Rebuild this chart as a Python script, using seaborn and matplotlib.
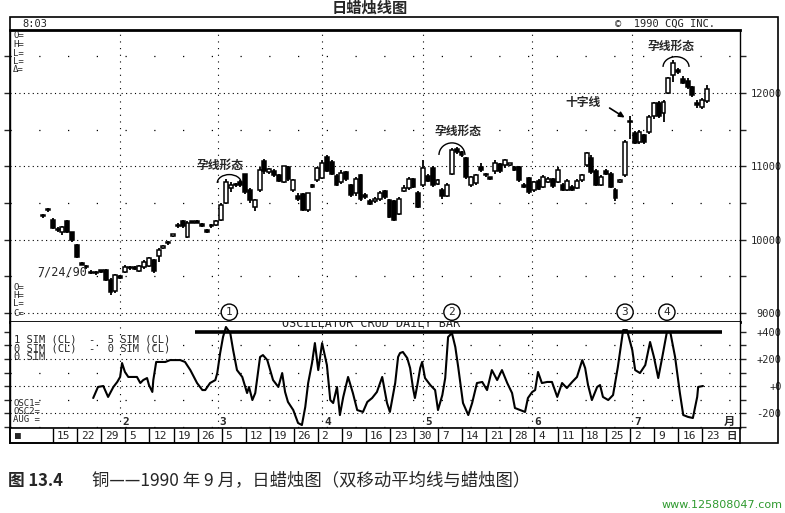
import matplotlib
matplotlib.use("Agg")
import matplotlib.pyplot as plt
import numpy as np
import pandas as pd
import seaborn as sns
from matplotlib.patches import Arc, Rectangle

sns.set_style("white")
plt.rcParams["font.family"] = ["DejaVu Sans Mono", "Noto Sans CJK SC"]
CJK = ["Noto Sans CJK SC", "DejaVu Sans"]
MONO = ["DejaVu Sans Mono", "DejaVu Sans"]

# 日线 OHLC，第 0 根约为 1990-01-11
opens = [10330, 10400, 10270, 10140, 10100, 10250, 10100, 9930, 9680, 9630,
         9560, 9540, 9570, 9590, 9450, 9300, 9500, 9560, 9610, 9620,
         9570, 9620, 9640, 9720, 9770, 9890, 9950, 10050, 10180, 10250,
         10040, 10240, 10250, 10200, 10120, 10180, 10200, 10270, 10500, 10700,
         10740, 10780, 10890, 10670, 10440, 10680, 11070, 10920, 10940, 10880,
         10790, 10990, 10670, 10600, 10620, 10400, 10740, 10810, 10840, 11120,
         11060, 10870, 10780, 10920, 10740, 10630, 10880, 10610, 10530, 10520,
         10550, 10660, 10540, 10520, 10350, 10660, 10700, 10820, 10640, 10740,
         10870, 10980, 10760, 10680, 10600, 10900, 11230, 11190, 11110, 10740,
         10770, 10990, 10890, 10840, 10930, 11030, 11020, 11020, 10990, 10990,
         10750, 10840, 10680, 10800, 10720, 10790, 10820, 10790, 10740, 10680,
         10720, 10710, 10810, 11020, 11110, 10930, 10750, 10930, 10900, 10680,
         10790, 10880, 11610, 11450, 11330, 11420, 11470, 11680, 11860, 11730,
         12000, 12250, 12300, 12190, 12170, 12080, 11870, 11810, 11890]
highs = [10350, 10430, 10290, 10170, 10190, 10270, 10110, 9940, 9700, 9650,
         9580, 9570, 9590, 9600, 9470, 9530, 9520, 9650, 9640, 9640,
         9660, 9720, 9760, 9730, 9880, 9920, 9980, 10080, 10220, 10270,
         10250, 10260, 10270, 10220, 10150, 10210, 10270, 10500, 10820, 10790,
         10770, 10810, 10900, 10700, 10560, 10990, 11100, 10980, 10960, 10900,
         11010, 11010, 10830, 10640, 10630, 10640, 10760, 10990, 11080, 11160,
         11080, 10890, 10950, 10940, 10760, 10850, 10900, 10640, 10560, 10580,
         10660, 10680, 10560, 10540, 10580, 10740, 10850, 10840, 10660, 11080,
         10900, 11000, 10830, 10700, 10770, 11250, 11260, 11210, 11130, 10870,
         10900, 11040, 10910, 10860, 11080, 11050, 11100, 11040, 11010, 11000,
         10770, 10860, 10800, 10820, 10880, 10850, 10840, 10990, 10770, 10820,
         10740, 10820, 10900, 11200, 11160, 10960, 10880, 10960, 10920, 10700,
         10830, 11360, 11690, 11480, 11490, 11440, 11700, 11880, 11890, 11900,
         12220, 12450, 12340, 12230, 12200, 12100, 11910, 11930, 12110]
lows = [10300, 10380, 10140, 10100, 10060, 10090, 9970, 9750, 9650, 9600,
        9530, 9520, 9550, 9440, 9250, 9270, 9460, 9540, 9590, 9580,
        9560, 9600, 9620, 9550, 9700, 9870, 9930, 10030, 10160, 10160,
        10020, 10220, 10220, 10170, 10090, 10160, 10180, 10250, 10480, 10650,
        10720, 10720, 10620, 10500, 10390, 10650, 10900, 10900, 10860, 10780,
        10770, 10800, 10650, 10520, 10390, 10380, 10700, 10790, 10820, 10920,
        10880, 10730, 10760, 10800, 10580, 10600, 10520, 10560, 10470, 10500,
        10530, 10560, 10290, 10250, 10330, 10650, 10680, 10700, 10430, 10720,
        10780, 10720, 10740, 10560, 10580, 10880, 11170, 11130, 10820, 10720,
        10750, 10920, 10860, 10810, 10900, 10910, 10980, 11000, 10930, 10790,
        10700, 10620, 10650, 10670, 10700, 10770, 10710, 10770, 10660, 10660,
        10660, 10690, 10790, 10990, 10900, 10730, 10730, 10880, 10700, 10530,
        10770, 10860, 11370, 11300, 11310, 11310, 11440, 11650, 11660, 11600,
        11980, 12150, 12260, 12120, 12050, 11950, 11800, 11780, 11870]
closes = [10320, 10410, 10160, 10130, 10170, 10110, 9990, 9760, 9660, 9620,
          9540, 9560, 9560, 9450, 9290, 9520, 9480, 9630, 9620, 9600,
          9640, 9700, 9750, 9570, 9860, 9900, 9960, 10060, 10200, 10180,
          10230, 10230, 10230, 10190, 10110, 10190, 10250, 10470, 10790, 10740,
          10750, 10740, 10650, 10540, 10540, 10950, 10930, 10960, 10880, 10800,
          11000, 10820, 10810, 10560, 10400, 10630, 10720, 10970, 11050, 10940,
          10900, 10750, 10910, 10820, 10610, 10820, 10550, 10580, 10480, 10560,
          10640, 10580, 10310, 10270, 10560, 10710, 10830, 10720, 10450, 10980,
          10800, 10740, 10810, 10590, 10750, 11220, 11200, 11150, 10850, 10850,
          10880, 10950, 10880, 10830, 11050, 10930, 11080, 11030, 10950, 10810,
          10720, 10650, 10780, 10690, 10860, 10830, 10730, 10950, 10680, 10800,
          10680, 10800, 10880, 11180, 10920, 10750, 10860, 10900, 10720, 10570,
          10810, 11330, 11600, 11320, 11470, 11330, 11670, 11860, 11690, 11880,
          12200, 12410, 12290, 12140, 12080, 11970, 11830, 11900, 12060]

# 振荡器（5 日均线 - 1 日均线）折线，横轴单位 = 交易日序号
osc_day = [10.4, 11.4, 12.5, 13.5, 14.6, 15.4, 16.0, 16.4, 17.0, 17.7, 19.5, 20.2,
           20.8, 21.6, 22.0, 22.7, 22.9, 23.5, 25.4, 26.4, 28.5, 29.5, 30.6, 32.0,
           33.1, 33.7, 34.7, 35.8, 36.2, 36.8, 37.4, 38.0, 38.9, 39.5, 40.3, 41.4,
           42.4, 42.8, 43.5, 44.1, 45.1, 45.7, 46.6, 47.8, 48.9, 49.7, 50.3, 50.9,
           52.0, 53.0, 53.8, 54.5, 55.1, 55.9, 56.5, 57.2, 58.0, 59.0, 59.7, 60.3,
           61.1, 61.7, 62.4, 63.4, 64.4, 65.3, 66.5, 67.4, 68.4, 69.4, 70.5, 71.5,
           72.1, 73.2, 73.8, 74.2, 74.8, 75.7, 76.3, 76.9, 77.3, 77.8, 78.4, 78.8,
           79.4, 80.5, 81.5, 82.1, 83.0, 83.6, 84.2, 85.0, 85.7, 86.3, 87.3, 88.4,
           89.2, 90.2, 91.3, 92.3, 93.3, 94.4, 95.4, 96.5, 97.5, 98.1, 99.2, 100.2,
           100.8, 101.7, 102.3, 102.9, 103.7, 104.8, 105.8, 106.9, 107.9, 108.9, 110.0, 111.0,
           112.1, 112.7, 113.3, 114.1, 115.2, 115.8, 116.4, 117.5, 118.5, 119.5, 120.6, 121.4,
           122.5, 123.1, 124.1, 125.2, 126.2, 127.0, 127.9, 128.7, 129.7, 130.4, 131.4, 132.4,
           133.1, 134.1, 135.1, 136.0, 136.2, 137.2]
osc_val = [-89, -7, 0, -81, -7, 30, 67, 170, 104, 67, 67, 22,
           44, 59, 7, -44, 44, 178, 178, 192, 192, 178, 118, 22,
           -30, -30, 22, 44, 96, 244, 363, 437, 392, 266, 118, 67,
           -52, -7, -104, -52, 215, 229, 192, 44, -7, 96, -44, -118,
           -178, -274, -289, -155, 22, 170, 318, 118, 318, 155, -104, -126,
           -7, -215, -81, 67, -52, -178, -192, -118, -89, -44, 67, -126,
           -192, 22, 215, 244, 252, 207, 133, -15, -89, 7, 133, 178,
           59, 7, -30, -178, -67, 59, 363, 392, 289, 141, -126, -215,
           -126, 22, 30, -30, 118, 44, 118, 22, -52, -163, -178, -192,
           -89, -44, -30, 104, 22, 30, 30, -81, 22, -15, 30, 67,
           192, 133, 7, -104, -7, 7, -81, -104, -67, 141, 414, 414,
           266, 118, 96, 155, 326, 215, 59, 207, 400, 400, 215, -52,
           -215, -229, -237, -81, -7, 0]

week_labels = ["15", "22", "29", "5", "12", "19", "26", "5", "12", "19", "26",
               "2", "9", "16", "23", "30", "7", "14", "21", "28", "4", "11",
               "18", "25", "2", "9", "16", "23"]
week_start = [2.1 + 5 * k for k in range(len(week_labels))]
month_labels = ["2", "3", "4", "5", "6", "7"]
month_day = [16, 36.3, 58, 79, 101.7, 122.5]

price_ticks = [9000, 10000, 11000, 12000]
osc_ticks = [-200, 0, 200, 400]
osc_tick_labels = ["-200", "+0", "+200", "+400"]

bars = pd.DataFrame({"open": opens, "high": highs, "low": lows, "close": closes})
bars["day"] = np.arange(len(bars))
osc = pd.DataFrame({"day": osc_day, "osc": osc_val})

W, H = 785, 513


def fx(x):
    return x / W


def fy(y):
    return 1 - y / H


fig = plt.figure(figsize=(W / 100, H / 100), dpi=100)
XL = (-6.9, 144.9)
DOT = (0, (1, 3))
DOTV = (0, (1, 5))
SPARSE = (0, (1, 22))

# ---------------- 主图：蜡烛线 ----------------
ax = fig.add_axes([fx(10), fy(322), fx(740) - fx(10), fy(30) - fy(322)])
ax.set_xlim(*XL)
ax.set_ylim(8876, 12859)
for p in price_ticks:
    ax.axhline(p, color="black", lw=0.8, ls=DOT, zorder=1)
for p in [9500, 10500, 11500, 12500]:
    ax.axhline(p, color="black", lw=0.9, ls=SPARSE, zorder=1)
for d in month_day:
    ax.axvline(d, color="black", lw=0.8, ls=DOTV, zorder=1)

ax.vlines(bars["day"], bars["low"], bars["high"], color="black", lw=1.3, zorder=2)
body_lo = np.minimum(bars["open"], bars["close"])
body_h = np.maximum((bars["close"] - bars["open"]).abs(), 20)
up = bars["close"] > bars["open"]
ax.bar(bars["day"][up], body_h[up], bottom=body_lo[up], width=0.8,
       facecolor="white", edgecolor="black", lw=1.1, zorder=3)
ax.bar(bars["day"][~up], body_h[~up], bottom=body_lo[~up], width=0.8,
       facecolor="black", edgecolor="black", lw=1.1, zorder=3)

ax.set_yticks(price_ticks)
ax.set_yticks([9500, 10500, 11500, 12500], minor=True)
ax.set_yticklabels([str(p) for p in price_ticks], family=MONO, fontsize=7.5)
ax.set_xticks([])
ax.tick_params(axis="y", which="both", left=True, right=True, labelleft=False,
               labelright=True, direction="out", length=4, width=1, pad=26)
for lbl in ax.get_yticklabels():
    lbl.set_horizontalalignment("right")
for s in ax.spines.values():
    s.set_color("black")
    s.set_linewidth(1)
ax.spines["top"].set_linewidth(2)
ax.spines["bottom"].set_linewidth(2)

# 标注
ax.text(36.8, 11018, "孕线形态", family=CJK, fontsize=8.5, fontweight="bold",
        ha="center", va="center")
ax.add_patch(Arc((38.7, 10772), 5.0, 230, theta1=15, theta2=165, color="black", lw=1))
ax.text(86.3, 11482, "孕线形态", family=CJK, fontsize=8.5, fontweight="bold",
        ha="center", va="center")
ax.add_patch(Arc((85.0, 11154), 5.4, 330, theta1=10, theta2=170, color="black", lw=1))
ax.text(130.6, 12641, "孕线形态", family=CJK, fontsize=8.5, fontweight="bold",
        ha="center", va="center")
ax.add_patch(Arc((131.6, 12355), 5.4, 280, theta1=10, theta2=170, color="black", lw=1))
ax.text(112.3, 11864, "十字线", family=CJK, fontsize=8.5, fontweight="bold",
        ha="center", va="center")
ax.annotate("", xy=(121.4, 11645), xytext=(117.3, 11815),
            arrowprops=dict(arrowstyle="-|>", color="black", lw=1.2, mutation_scale=8))
ax.text(-1.2, 9558, "7/24/90", family=MONO, fontsize=8.5, ha="left", va="center")
for num, d in zip(["1", "2", "3", "4"], [38.7, 85.0, 121.0, 129.7]):
    ax.text(d, 9010, num, family=MONO, fontsize=8, ha="center", va="center", zorder=5,
            bbox=dict(boxstyle="circle,pad=0.28", fc="white", ec="black", lw=1))

# ---------------- 振荡器 ----------------
ax2 = fig.add_axes([fx(10), fy(428), fx(740) - fx(10), fy(322) - fy(428)])
ax2.set_xlim(*XL)
ax2.set_ylim(-311, 474)
for v in [200, 0, -200]:
    ax2.axhline(v, color="black", lw=0.8, ls=DOT, zorder=1)
for v in [300, 100, -100, -300]:
    ax2.axhline(v, color="black", lw=0.9, ls=SPARSE, zorder=1)
for d in month_day:
    ax2.axvline(d, color="black", lw=0.8, ls=DOTV, zorder=1)
sns.lineplot(data=osc, x="day", y="osc", ax=ax2, color="black", lw=1.5,
             sort=False, estimator=None, legend=False, zorder=3)
ax2.hlines(400, 31.6, 141.2, color="black", lw=2.6, zorder=4)
ax2.text(49.7, 418, "OSCILLATOR CRUD DAILY BAR", family=MONO, fontsize=8.5,
         ha="left", va="bottom", clip_on=True)
for lbl, d in zip(month_labels, month_day):
    ax2.text(d + 0.4, -266, lbl, family=MONO, fontsize=8, fontweight="bold",
             ha="left", va="center")
ax2.set_xlabel("")
ax2.set_ylabel("")
ax2.set_xticks([])
ax2.set_yticks(osc_ticks)
ax2.set_yticks([300, 100, -100, -300], minor=True)
ax2.set_yticklabels(osc_tick_labels, family=MONO, fontsize=7.5)
ax2.tick_params(axis="y", which="both", left=True, right=True, labelleft=False,
                labelright=True, direction="out", length=4, width=1, pad=26)
for lbl in ax2.get_yticklabels():
    lbl.set_horizontalalignment("right")
for s in ax2.spines.values():
    s.set_color("black")
    s.set_linewidth(1)
ax2.spines["top"].set_visible(False)

# ---------------- 日期格 ----------------
ax3 = fig.add_axes([fx(10), fy(443), fx(740) - fx(10), fy(428) - fy(443)])
ax3.set_xlim(*XL)
ax3.set_ylim(0, 1)
ax3.vlines(week_start, 0, 1, color="black", lw=1)
for lbl, d in zip(week_labels, week_start):
    ax3.text(d + 0.8, 0.45, lbl, family=MONO, fontsize=8, ha="left", va="center")
ax3.text(-5.8, 0.45, "■", family=MONO, fontsize=7, ha="left", va="center")
ax3.text(142.0, 0.45, "日", family=CJK, fontsize=7.5, fontweight="bold",
         ha="left", va="center")
ax3.set_xticks([])
ax3.set_yticks([])
for s in ax3.spines.values():
    s.set_color("black")
    s.set_linewidth(1.2)

# ---------------- 外框与文字 ----------------
fig.add_artist(Rectangle((fx(10), fy(443)), fx(778) - fx(10), fy(17) - fy(443),
                         transform=fig.transFigure, fill=False, ec="black", lw=1.2))
fig.text(fx(370), fy(8), "日蜡烛线图", family=CJK, fontsize=11, fontweight="bold",
         ha="center", va="center")
fig.text(fx(22), fy(24), "8:03", family=MONO, fontsize=7.5, ha="left", va="center")
fig.text(fx(615), fy(24), "©  1990 CQG INC.", family=MONO, fontsize=7.5,
         ha="left", va="center")
for lbl, y in zip(["O=", "H=", "L=", "L=", "Δ="], [36, 44.5, 53, 61.5, 70]):
    fig.text(fx(13), fy(y), lbl, family=MONO, fontsize=6.5, ha="left", va="center")
for lbl, y in zip(["O=", "H=", "L=", "C="], [287, 295.5, 304, 313]):
    fig.text(fx(13), fy(y), lbl, family=MONO, fontsize=6.5, ha="left", va="center")
for lbl, y in zip(["1 SIM (CL)  -  5 SIM (CL)", "0 SIM (CL)  -  0 SIM (CL)", "0 SIM"],
                  [339.5, 348.5, 357.5]):
    fig.text(fx(14), fy(y), lbl, family=MONO, fontsize=7.5, ha="left", va="center")
for lbl, y in zip(["OSC1=", "OSC2=", "AUG ="], [403, 411.5, 420]):
    fig.text(fx(13), fy(y), lbl, family=MONO, fontsize=6.5, ha="left", va="center")
fig.text(fx(724), fy(421), "月", family=CJK, fontsize=8, fontweight="bold",
         ha="left", va="center")

fig.text(fx(8), fy(481), "图 13.4", family=CJK, fontsize=12, fontweight="bold",
         ha="left", va="center")
fig.text(fx(92), fy(481), "铜——1990 年 9 月，日蜡烛图（双移动平均线与蜡烛图）",
         family=CJK, fontsize=12.5, ha="left", va="center")
fig.text(fx(783), fy(505), "www.125808047.com", family=["DejaVu Sans"], fontsize=8,
         color="#2f9a2f", ha="right", va="center")

fig.savefig("out.png", dpi=100)
